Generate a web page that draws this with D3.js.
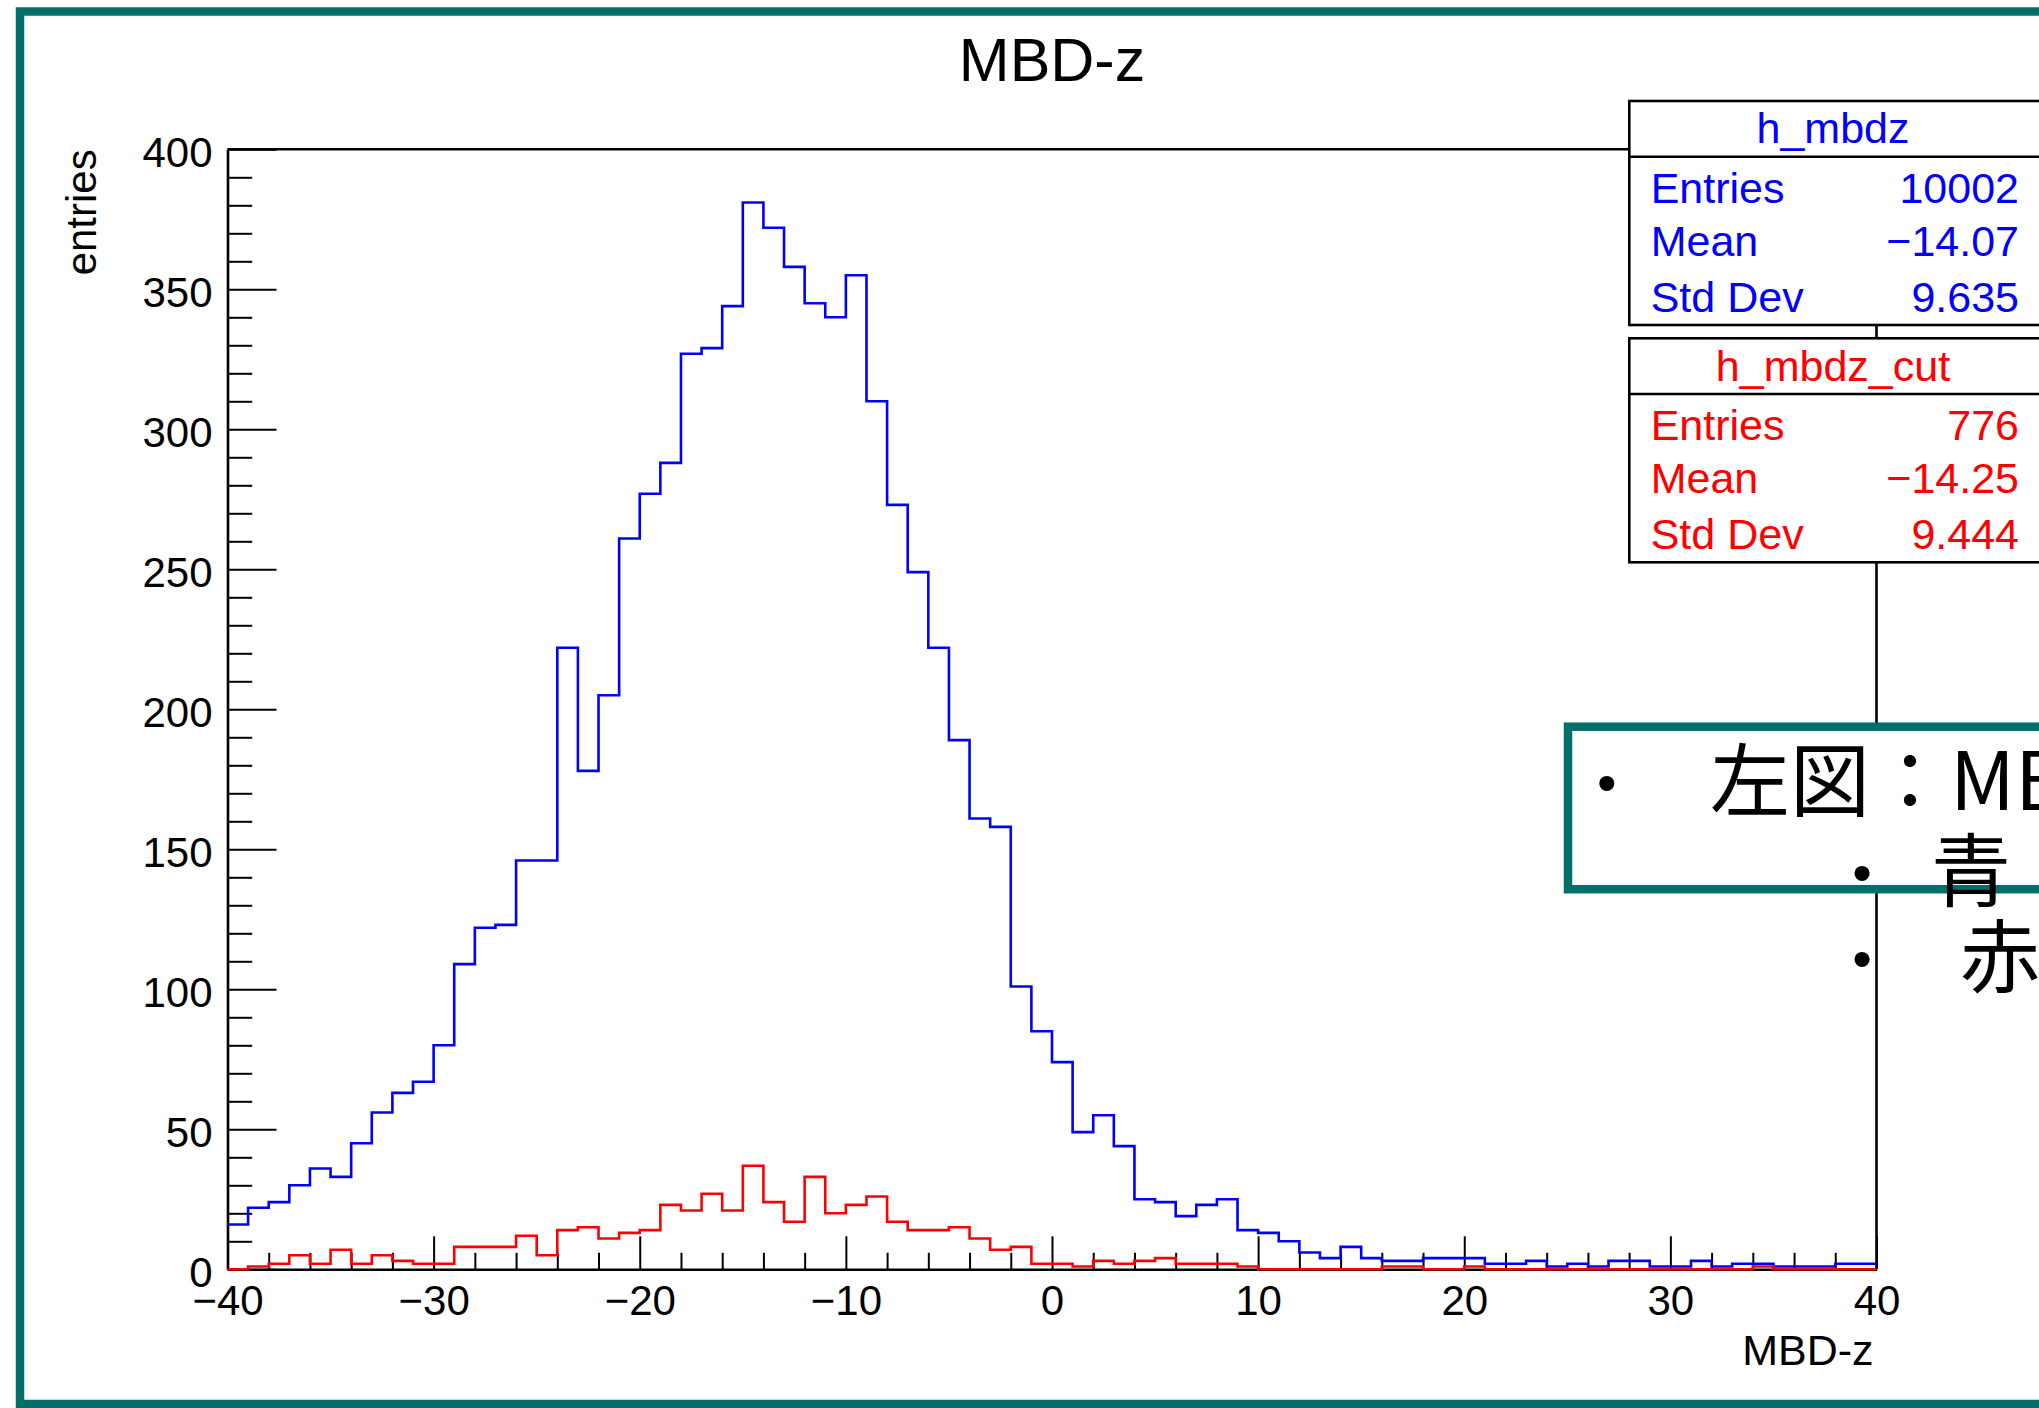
<!DOCTYPE html>
<html>
<head>
<meta charset="utf-8">
<script src="https://cdn.jsdelivr.net/npm/d3@7"></script>
<style>
  html, body { margin: 0; padding: 0; background: #ffffff; overflow: hidden; }
  svg { display: block; }
</style>
</head>
<body>
<svg id="chart" width="2039" height="1408"></svg>
<script>
// Histogram range: 80 bins of width 1 from -40 to 40
const xMin = -40;
const xMax = 40;

// Bin contents, lowest bin first (-40..-39, -39..-38, ...)
const countsAll = [
  16, 22, 24, 30, 36, 33, 45, 56, 63, 67,
  80, 109, 122, 123, 146, 146, 222, 178, 205, 261,
  277, 288, 327, 329, 344, 381, 372, 358, 345, 340,
  355, 310, 273, 249, 222, 189, 161, 158, 101, 85,
  74, 49, 55, 44, 25, 24, 19, 23, 25, 14,
  13, 10, 6, 4, 8, 4, 3, 3, 4, 4,
  4, 2, 2, 3, 1, 2, 1, 3, 3, 1,
  1, 3, 1, 2, 2, 1, 1, 1, 2, 2
];
const countsCut = [
  0, 1, 2, 5, 2, 7, 2, 5, 3, 2,
  2, 8, 8, 8, 12, 5, 14, 15, 11, 13,
  14, 23, 21, 27, 21, 37, 24, 17, 33, 20,
  23, 26, 17, 14, 14, 15, 11, 7, 8, 2,
  2, 1, 3, 2, 3, 4, 2, 2, 2, 1,
  0, 0, 0, 0, 0, 0, 1, 1, 0, 0,
  1, 0, 0, 0, 0, 0, 0, 0, 0, 0,
  0, 0, 0, 0, 1, 0, 0, 0, 0, 0
];

// Axis ticks
const xMajorTicks = [-40, -30, -20, -10, 0, 10, 20, 30, 40];
const xMinorTicks = [-38, -36, -34, -32, -28, -26, -24, -22, -18, -16, -14, -12,
                     -8, -6, -4, -2, 2, 4, 6, 8, 12, 14, 16, 18, 22, 24, 26, 28,
                     32, 34, 36, 38];
const yMajorTicks = [0, 50, 100, 150, 200, 250, 300, 350, 400];
const yMinorTicks = [10, 20, 30, 40, 60, 70, 80, 90, 110, 120, 130, 140, 160, 170, 180, 190,
                     210, 220, 230, 240, 260, 270, 280, 290, 310, 320, 330, 340,
                     360, 370, 380, 390];

// Titles
const chartTitle = "MBD-z";
const xTitle = "MBD-z";
const yTitle = "entries";

// Statistics boxes
const statLabels = ["Entries", "Mean", "Std Dev"];
const statsAllName = "h_mbdz";
const statsAllValues = ["10002", "\u221214.07", "9.635"];
const statsCutName = "h_mbdz_cut";
const statsCutValues = ["776", "\u221214.25", "9.444"];

// Slide note
const noteLines = ["左図：MBD-z分布", "青：h_mbdz", "赤：h_mbdz_cut"];

// ---------------------------------------------------------------
const FONT = "'Liberation Sans', Arial, Helvetica, sans-serif";
const TEAL = "#02706A";
const svg = d3.select("#chart");

const plot = { left: 227.5, right: 1876.5, top: 149.3, bottom: 1269.3 };
const x = d3.scaleLinear().domain([xMin, xMax]).range([plot.left, plot.right]);
const y = d3.scaleLinear().domain([0, 400]).range([plot.bottom, plot.top]);

// Outer slide frame
svg.append("rect")
  .attr("x", 20).attr("y", 11.5)
  .attr("width", 2100).attr("height", 1392.5)
  .attr("fill", "none").attr("stroke", TEAL).attr("stroke-width", 8.5);

// Title
svg.append("text")
  .attr("x", (plot.left + plot.right) / 2).attr("y", 81)
  .attr("text-anchor", "middle")
  .style("font-family", FONT).style("font-size", "61px")
  .text(chartTitle);

// X axis: minor then major ticks
const gxMinor = svg.append("g")
  .attr("transform", `translate(0,${plot.bottom})`)
  .call(d3.axisBottom(x).tickValues(xMinorTicks).tickSize(-16.5).tickSizeOuter(0).tickFormat(""));
gxMinor.select(".domain").remove();

const gx = svg.append("g")
  .attr("transform", `translate(0,${plot.bottom})`)
  .call(d3.axisBottom(x).tickValues(xMajorTicks).tickSize(-33).tickSizeOuter(0)
        .tickPadding(16).tickFormat(d3.format("d")));

// Y axis: minor then major ticks
const gyMinor = svg.append("g")
  .attr("transform", `translate(${plot.left},0)`)
  .call(d3.axisLeft(y).tickValues(yMinorTicks).tickSize(-24.7).tickSizeOuter(0).tickFormat(""));
gyMinor.select(".domain").remove();

const gy = svg.append("g")
  .attr("transform", `translate(${plot.left},0)`)
  .call(d3.axisLeft(y).tickValues(yMajorTicks).tickSize(-49).tickSizeOuter(0)
        .tickPadding(15).tickFormat(d3.format("d")));
gy.selectAll(".tick text").attr("dy", "0.4em");

[gx, gy, gxMinor, gyMinor].forEach(g => {
  g.attr("font-family", null).attr("font-size", null);
  g.selectAll(".tick line").attr("stroke", "#000").attr("stroke-width", 2);
  g.selectAll(".domain").attr("stroke", "#000").attr("stroke-width", 2.6);
  g.selectAll("text").style("font-family", FONT).style("font-size", "42px").attr("fill", "#000");
});

// Frame top and right edges
svg.append("line")
  .attr("x1", plot.left).attr("x2", plot.right)
  .attr("y1", plot.top).attr("y2", plot.top)
  .attr("stroke", "#000").attr("stroke-width", 2.6);
svg.append("line")
  .attr("x1", plot.right).attr("x2", plot.right)
  .attr("y1", plot.top).attr("y2", plot.bottom)
  .attr("stroke", "#000").attr("stroke-width", 2.6);

// Axis titles
svg.append("text")
  .attr("x", plot.right - 3).attr("y", 1365)
  .attr("text-anchor", "end")
  .style("font-family", FONT).style("font-size", "43px")
  .text(xTitle);

svg.append("text")
  .attr("transform", `translate(96,${plot.top}) rotate(-90)`)
  .attr("text-anchor", "end")
  .style("font-family", FONT).style("font-size", "42px")
  .text(yTitle);

// Histogram outlines drawn as steps over each bin
function stepPoints(counts) {
  const pts = counts.map((c, i) => [xMin + i, c]);
  pts.push([xMax, counts[counts.length - 1]]);
  return pts;
}
const stepLine = d3.line()
  .x(d => x(d[0]))
  .y(d => y(d[1]))
  .curve(d3.curveStepAfter);

svg.append("path")
  .datum(stepPoints(countsAll))
  .attr("d", stepLine)
  .attr("fill", "none").attr("stroke", "#0000FF").attr("stroke-width", 2.6);

svg.append("path")
  .datum(stepPoints(countsCut))
  .attr("d", stepLine)
  .attr("fill", "none").attr("stroke", "#FF0000").attr("stroke-width", 2.6);

// Statistics boxes
function statsBox(top, name, values, color) {
  const g = svg.append("g");
  const left = 1629.3, width = 420, height = 224;
  g.append("rect")
    .attr("x", left).attr("y", top).attr("width", width).attr("height", height)
    .attr("fill", "#fff").attr("stroke", "#000").attr("stroke-width", 2.6);
  g.append("line")
    .attr("x1", left).attr("x2", left + width)
    .attr("y1", top + 55.7).attr("y2", top + 55.7)
    .attr("stroke", "#000").attr("stroke-width", 2.6);
  g.append("text")
    .attr("x", 1833).attr("y", top + 42.3)
    .attr("text-anchor", "middle").attr("fill", color)
    .style("font-family", FONT).style("font-size", "43px")
    .text(name);
  const rowY = [101.7, 154.7, 210.7];
  statLabels.forEach((lab, i) => {
    g.append("text")
      .attr("x", 1650.7).attr("y", top + rowY[i])
      .attr("fill", color)
      .style("font-family", FONT).style("font-size", "43px")
      .text(lab);
    g.append("text")
      .attr("x", 2019).attr("y", top + rowY[i])
      .attr("text-anchor", "end").attr("fill", color)
      .style("font-family", FONT).style("font-size", "43px")
      .text(values[i]);
  });
}
statsBox(101, statsAllName, statsAllValues, "#0000FF");
statsBox(338.3, statsCutName, statsCutValues, "#FF0000");

// Note box with bullet list
const note = svg.append("g");
note.append("rect")
  .attr("x", 1568).attr("y", 726.7)
  .attr("width", 600).attr("height", 162.5)
  .attr("fill", "#fff").attr("stroke", TEAL).attr("stroke-width", 8.5);

const CJK = "'Noto Sans CJK JP', 'Noto Sans', sans-serif";
const noteRows = [
  { bulletX: 1606.7, textX: 1710, baseline: 810 },
  { bulletX: 1862,   textX: 1931, baseline: 900 },
  { bulletX: 1862,   textX: 1960, baseline: 986 }
];
noteRows.forEach((r, i) => {
  note.append("text")
    .attr("x", r.bulletX).attr("y", r.baseline - 8)
    .attr("text-anchor", "middle")
    .style("font-family", FONT).style("font-size", "56px")
    .text("•");
  note.append("text")
    .attr("x", r.textX).attr("y", r.baseline)
    .style("font-family", CJK).style("font-size", "80px")
    .text(noteLines[i]);
});
</script>
</body>
</html>
